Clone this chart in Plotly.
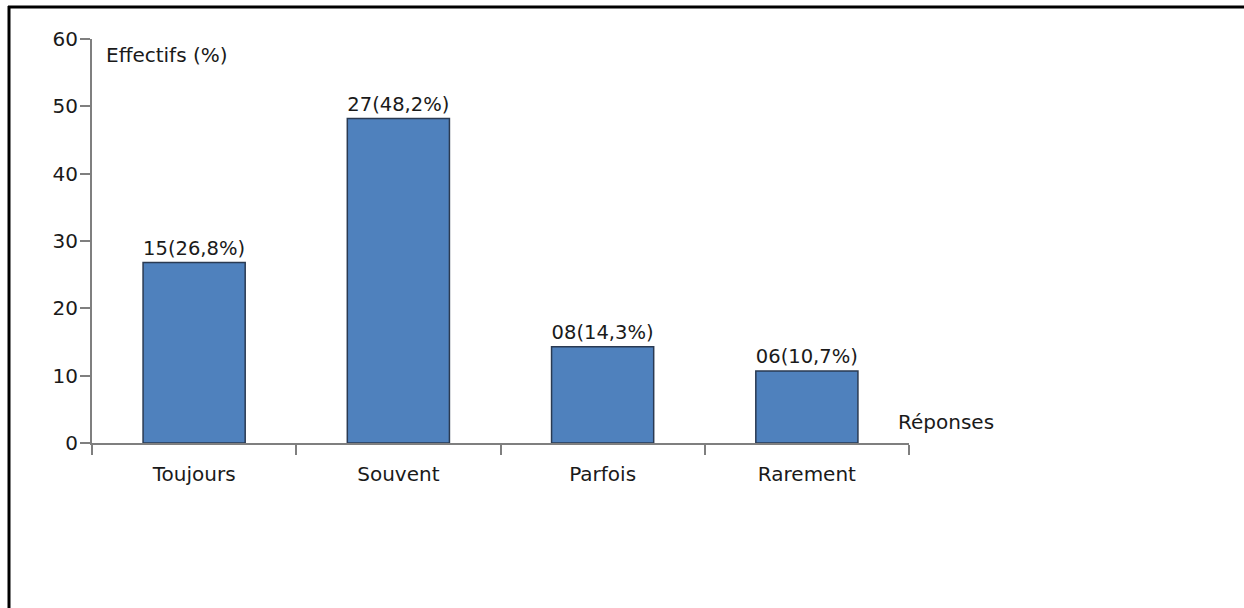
import plotly.graph_objects as go

categories = ["Toujours", "Souvent", "Parfois", "Rarement"]
percentages = [26.8, 48.2, 14.3, 10.7]
counts = ["15", "27", "08", "06"]
pct_labels = ["26,8%", "48,2%", "14,3%", "10,7%"]
y_ticks = [0, 10, 20, 30, 40, 50, 60]

labels = [f"{c}({p})" for c, p in zip(counts, pct_labels)]

FONT = "DejaVu Sans"
FS = 20
TXT = "#1a1a1a"

fig = go.Figure()
fig.add_trace(go.Bar(
    x=categories, y=percentages, width=0.5,
    marker=dict(color="#4F81BD", line=dict(color="#2A3A52", width=1.5)),
    text=labels, textposition="outside", cliponaxis=False,
    textfont=dict(family=FONT, size=FS, color=TXT),
))

W, H = 1244, 608
L, R, T, B = 92, 335, 39, 165
pw, ph = W - L - R, H - T - B

def px(x):
    return (x - L) / pw

def py(y):
    return (H - B - y) / ph

fig.update_layout(
    width=W, height=H,
    margin=dict(l=L, r=R, t=T, b=B, autoexpand=False),
    paper_bgcolor="white", plot_bgcolor="white",
    showlegend=False, bargap=0.5,
    font=dict(family=FONT, size=FS, color=TXT),
    xaxis=dict(
        type="category", range=[-0.5, 3.5], showline=True, linecolor="#7F7F7F", linewidth=2,
        ticks="outside", tickson="boundaries", ticklen=10, tickwidth=2, tickcolor="#7F7F7F",
        showgrid=False, ticklabelstandoff=12,
        tickfont=dict(family=FONT, size=FS, color=TXT),
    ),
    yaxis=dict(
        range=[0, 60], tickvals=y_ticks, showline=True, linecolor="#7F7F7F", linewidth=2,
        ticks="outside", ticklen=10, tickwidth=2, tickcolor="#7F7F7F",
        showgrid=False, zeroline=False, ticklabelstandoff=-2,
        tickfont=dict(family=FONT, size=FS, color=TXT),
    ),
    annotations=[
        dict(text="Effectifs (%)", xref="paper", yref="paper", x=px(104), y=py(55),
             xanchor="left", yanchor="middle", showarrow=False,
             font=dict(family=FONT, size=FS, color=TXT)),
        dict(text="Réponses", xref="paper", yref="paper", x=px(896), y=py(422),
             xanchor="left", yanchor="middle", showarrow=False,
             font=dict(family=FONT, size=FS, color=TXT)),
    ],
    shapes=[
        dict(type="line", xref="paper", yref="paper", x0=px(8), x1=px(1244), y0=py(7), y1=py(7),
             line=dict(color="black", width=3)),
        dict(type="line", xref="paper", yref="paper", x0=px(9), x1=px(9), y0=py(6), y1=py(608),
             line=dict(color="black", width=3)),
    ],
)

fig.write_html("out.html")
